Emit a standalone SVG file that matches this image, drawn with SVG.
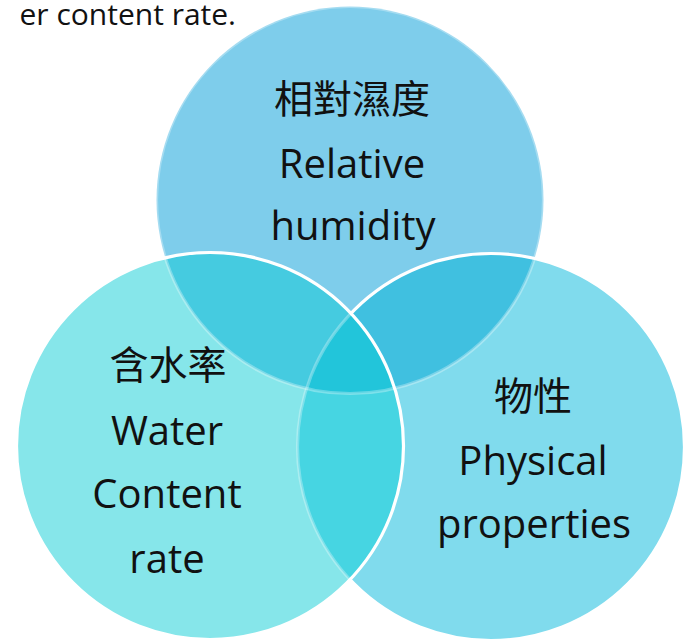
<svg xmlns="http://www.w3.org/2000/svg" width="696" height="641" viewBox="0 0 696 641">
<style>
.lat{font-family:"Open Sans","Noto Sans",sans-serif;font-size:40px;fill:#111;text-anchor:middle}
.cjk{font-family:"Noto Sans CJK TC","Noto Sans CJK SC",sans-serif;font-size:39px;fill:#111;text-anchor:middle}
.cap{font-family:"Open Sans","Noto Sans",sans-serif;font-size:30px;fill:#111;text-anchor:end}
.edge{fill:none;stroke:#fff;stroke-width:3.2}
</style>
<defs>
<clipPath id="cTop"><circle cx="350" cy="200" r="193.5"/></clipPath>
<clipPath id="cLeft"><circle cx="210" cy="446" r="193.5"/></clipPath>
<clipPath id="cRight"><circle cx="491" cy="447" r="193.5"/></clipPath>
<mask id="mOutLeft"><rect width="696" height="641" fill="#fff"/><circle cx="210" cy="446" r="193.5" fill="#000"/></mask>
</defs>
<rect width="696" height="641" fill="#fff"/>
<text class="cap" x="236" y="25">er content rate.</text>
<g id="node-relative-humidity">
<circle cx="350" cy="200" r="193.5" fill="#7ecdeb"/>
<text class="cjk" x="352" y="113">相對濕度</text>
<text class="lat" x="352" y="178">Relative</text>
<text class="lat" x="353" y="240">humidity</text>
</g>
<g id="node-water-content-rate">
<circle cx="210" cy="446" r="193.5" fill="#86e6ea"/>
<text class="cjk" x="168" y="379">含水率</text>
<text class="lat" x="167" y="445">Water</text>
<text class="lat" x="167" y="508">Content</text>
<text class="lat" x="167" y="573">rate</text>
</g>
<g id="node-physical-properties">
<circle cx="491" cy="447" r="193.5" fill="#80dbed"/>
<text class="cjk" x="533" y="410">物性</text>
<text class="lat" x="533" y="475">Physical</text>
<text class="lat" x="534" y="538">properties</text>
</g>
<g id="overlaps">
<circle cx="210" cy="446" r="193.5" fill="#45cbe0" clip-path="url(#cTop)"/>
<circle cx="491" cy="447" r="193.5" fill="#40c0e0" clip-path="url(#cTop)"/>
<circle cx="210" cy="446" r="193.5" fill="#46d5e2" clip-path="url(#cRight)"/>
<g clip-path="url(#cLeft)"><circle cx="350" cy="200" r="193.5" fill="#22c5da" clip-path="url(#cRight)"/></g>
</g>
<g id="connectors">
<circle class="edge" cx="350" cy="200" r="193.5" stroke-opacity="0.3"/>
<circle class="edge" cx="491" cy="447" r="193.5" mask="url(#mOutLeft)"/>
<circle class="edge" cx="491" cy="447" r="193.5" stroke-opacity="0.3" clip-path="url(#cLeft)"/>
<circle class="edge" cx="210" cy="446" r="193.5"/>
</g>
</svg>
